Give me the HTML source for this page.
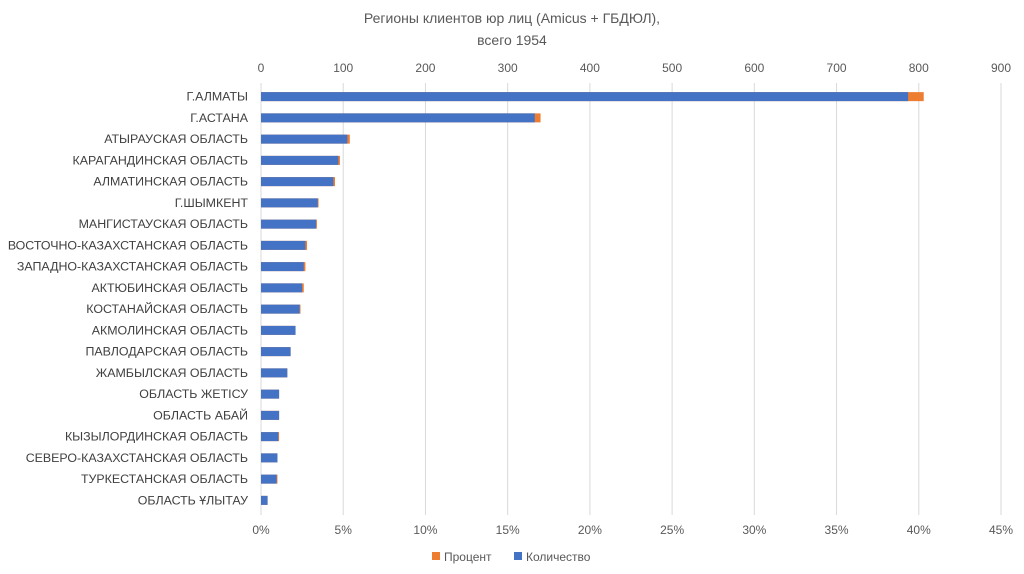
<!DOCTYPE html>
<html><head><meta charset="utf-8"><style>
html,body{margin:0;padding:0;background:#fff;}
svg{display:block;font-family:"Liberation Sans","DejaVu Sans",sans-serif;}
</style></head><body>
<svg id="chart" width="1024" height="574" viewBox="0 0 1024 574">
<text x="512" y="23" text-anchor="middle" font-size="14" fill="#595959">Регионы клиентов юр лиц (Amicus + ГБДЮЛ),</text>
<text x="512" y="45" text-anchor="middle" font-size="14" fill="#595959">всего 1954</text>
<g id="grid"></g><g id="bars"></g><g id="labels"></g>
<g>
<rect x="432" y="552" width="8" height="8" fill="#ed7d31"/>
<text x="444" y="561" font-size="12" fill="#595959">Процент</text>
<rect x="514" y="552" width="8" height="8" fill="#4472c4"/>
<text x="526" y="561" font-size="12" fill="#595959">Количество</text>
</g>
</svg>
<script>
const categories=["Г.АЛМАТЫ","Г.АСТАНА","АТЫРАУСКАЯ ОБЛАСТЬ","КАРАГАНДИНСКАЯ ОБЛАСТЬ","АЛМАТИНСКАЯ ОБЛАСТЬ","Г.ШЫМКЕНТ","МАНГИСТАУСКАЯ ОБЛАСТЬ","ВОСТОЧНО-КАЗАХСТАНСКАЯ ОБЛАСТЬ","ЗАПАДНО-КАЗАХСТАНСКАЯ ОБЛАСТЬ","АКТЮБИНСКАЯ ОБЛАСТЬ","КОСТАНАЙСКАЯ ОБЛАСТЬ","АКМОЛИНСКАЯ ОБЛАСТЬ","ПАВЛОДАРСКАЯ ОБЛАСТЬ","ЖАМБЫЛСКАЯ ОБЛАСТЬ","ОБЛАСТЬ ЖЕТІСУ","ОБЛАСТЬ АБАЙ","КЫЗЫЛОРДИНСКАЯ ОБЛАСТЬ","СЕВЕРО-КАЗАХСТАНСКАЯ ОБЛАСТЬ","ТУРКЕСТАНСКАЯ ОБЛАСТЬ","ОБЛАСТЬ ҰЛЫТАУ"];
const counts=[787,333,105,94,88,69,67,54,52,50,47,42,36,32,22,22,21,20,19,8];
const percents=[40.3,17.0,5.4,4.8,4.5,3.5,3.4,2.8,2.7,2.6,2.4,2.1,1.8,1.6,1.1,1.1,1.1,1.0,1.0,0.4];
const countTicks=[0,100,200,300,400,500,600,700,800,900];
const pctTicks=[0,5,10,15,20,25,30,35,40,45];
const X0=261,X1=1001,TOP=86,BOT=511;
const xc=v=>X0+(X1-X0)*v/900;
const xp=v=>X0+(X1-X0)*v/45;
const band=(BOT-TOP)/categories.length;
const yc=i=>TOP+band*(i+0.5);
const NS="http://www.w3.org/2000/svg";
function mk(tag,attrs,parent,txt){const e=document.createElementNS(NS,tag);for(const k in attrs)e.setAttribute(k,attrs[k]);if(txt!==undefined)e.textContent=txt;parent.appendChild(e);return e;}
const grid=document.getElementById('grid'),bars=document.getElementById('bars'),labels=document.getElementById('labels');
countTicks.forEach(t=>{
 const l=mk('line',{x1:xc(t),x2:xc(t),y1:TOP-3,y2:BOT+4,stroke:'#d9d9d9','stroke-width':1},grid);
 
 
 const tx=mk('text',{x:xc(t),y:72,'text-anchor':'middle','font-size':12,fill:'#595959'},labels,String(t));
 
 
});
pctTicks.forEach(t=>{
 const tx=mk('text',{x:xp(t),y:534,'text-anchor':'middle','font-size':12,fill:'#595959'},labels,t+'%');
 
 
});
categories.forEach((c,i)=>{
 const y=yc(i);
 const o=mk('rect',{x:X0,y:y-4.5,width:xp(percents[i])-X0,height:9,fill:'#ed7d31'},bars);
 
 
 const b=mk('rect',{x:X0,y:y-4.5,width:xc(counts[i])-X0,height:9,fill:'#4472c4'},bars);
 
 
 const tx=mk('text',{x:248,y:y+4,'text-anchor':'end','font-size':12.4,fill:'#404040'},labels,c);
 
 
});
</script>
</body></html>
